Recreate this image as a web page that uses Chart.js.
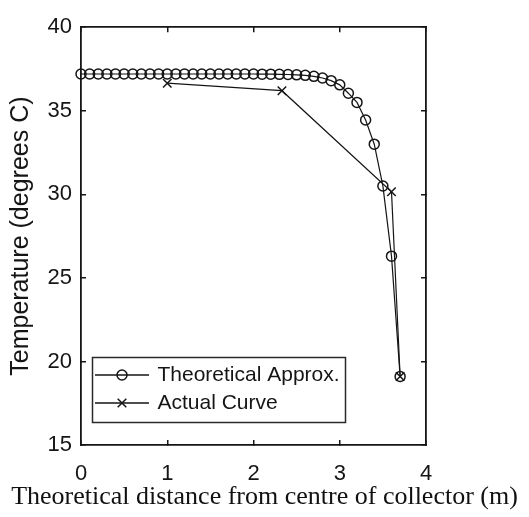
<!DOCTYPE html>
<html><head><meta charset="utf-8">
<script src="https://cdn.jsdelivr.net/npm/chart.js@4.4.0/dist/chart.umd.min.js"></script>
<style>html,body{margin:0;padding:0;background:#fff;}canvas{display:block;}</style>
</head><body>
<canvas id="c" width="529" height="517"></canvas>
<script>
const theoX = [0.0,0.1,0.2,0.3,0.4,0.5,0.6,0.7,0.8,0.9,1.0,1.1,1.2,1.3,1.4,1.5,1.6,1.7,1.8,1.9,2.0,2.1,2.2,2.3,2.4,2.5,2.6,2.7,2.8,2.9,3.0,3.1,3.2,3.3,3.4,3.5,3.6,3.7];
const theoT = [37.2,37.2,37.2,37.2,37.2,37.2,37.2,37.2,37.2,37.2,37.2,37.2,37.2,37.2,37.2,37.2,37.2,37.2,37.2,37.2,37.2,37.19,37.19,37.18,37.17,37.15,37.12,37.06,36.96,36.8,36.55,36.05,35.5,34.45,33.0,30.5,26.3,19.1];
const actX = [1.0, 2.33, 3.6, 3.7];
const actT = [36.65, 36.2, 30.15, 19.1];
const xTicks = [0, 1, 2, 3, 4];
const yTicks = [15, 20, 25, 30, 35, 40];
const seriesLabels = ['Theoretical Approx.', 'Actual Curve'];
const xTitle = 'Theoretical distance from centre of collector (m)';
const yTitle = 'Temperature (degrees C)';

const INK = '#151515';
function sample(kind) {
  const c = document.createElement('canvas');
  c.width = 54; c.height = 16;
  const g = c.getContext('2d');
  g.strokeStyle = INK; g.lineWidth = 1.4;
  g.beginPath(); g.moveTo(0, 8); g.lineTo(54, 8); g.stroke();
  g.lineWidth = 1.5;
  if (kind === 'circle') {
    g.beginPath(); g.arc(27, 8, 5, 0, Math.PI * 2); g.stroke();
  } else {
    const d = 4.3;
    g.beginPath(); g.moveTo(27 - d, 8 - d); g.lineTo(27 + d, 8 + d);
    g.moveTo(27 - d, 8 + d); g.lineTo(27 + d, 8 - d); g.stroke();
  }
  return c;
}
const samples = [sample('circle'), sample('cross')];

const setX = s => { s.ticks = xTicks.map(v => ({value: v})); };
const setY = s => { s.ticks = yTicks.map(v => ({value: v})); };
const gridOpts = {drawOnChartArea: false, tickLength: -5, color: INK, lineWidth: 1.5};
const borderOpts = {color: INK, width: 1.8};
const tickFont = {family: 'Liberation Sans', size: 22};

const legendPlace = {
  id: 'legendPlace',
  afterLayout(chart) {
    const L = chart.legend;
    L.left = 90; L.top = 357.5; L.right = 345; L.bottom = 430;
    L.width = L.right - L.left; L.height = L.bottom - L.top;
  },
  afterDraw(chart) {
    const g = chart.ctx;
    g.save();
    g.strokeStyle = '#2a2a2a'; g.lineWidth = 1.5;
    g.strokeRect(92.5, 357.5, 253, 65);
    g.restore();
  }
};

new Chart(document.getElementById('c'), {
  type: 'scatter',
  data: {
    datasets: [
      {
        label: seriesLabels[0],
        data: theoX.map((x, i) => ({x: x, y: theoT[i]})),
        showLine: true, borderColor: INK, borderWidth: 1.2,
        pointStyle: 'circle', pointRadius: 5, pointBorderWidth: 1.5,
        pointBorderColor: INK, pointBackgroundColor: 'rgba(0,0,0,0)',
        clip: false, tension: 0
      },
      {
        label: seriesLabels[1],
        data: actX.map((x, i) => ({x: x, y: actT[i]})),
        showLine: true, borderColor: INK, borderWidth: 1.2,
        pointStyle: 'crossRot', pointRadius: 6, pointBorderWidth: 1.5,
        pointBorderColor: INK, pointBackgroundColor: 'rgba(0,0,0,0)',
        clip: false, tension: 0
      }
    ]
  },
  options: {
    responsive: false, animation: false, devicePixelRatio: 1, events: [],
    layout: {padding: 0},
    scales: {
      x: {
        type: 'linear', position: 'bottom', min: 0, max: 4,
        afterBuildTicks: setX, afterFit: s => { s.height = 36.4; },
        grid: gridOpts, border: borderOpts,
        ticks: {font: tickFont, color: INK, padding: 21, maxRotation: 0}
      },
      x2: {
        type: 'linear', position: 'top', min: 0, max: 4,
        afterBuildTicks: setX, afterFit: s => { s.height = 11; },
        grid: gridOpts, border: borderOpts, ticks: {display: false}
      },
      y: {
        type: 'linear', position: 'left', min: 15, max: 40,
        afterBuildTicks: setY, afterFit: s => { s.width = 81; },
        grid: gridOpts, border: borderOpts,
        ticks: {font: tickFont, color: INK, padding: 14},
        title: {display: true, text: yTitle, color: INK,
          font: {family: 'Liberation Sans', size: 25}, padding: {top: 6.5, bottom: 0}}
      },
      y2: {
        type: 'linear', position: 'right', min: 15, max: 40,
        afterBuildTicks: setY, afterFit: s => { s.width = 103; },
        grid: gridOpts, border: borderOpts, ticks: {display: false}
      }
    },
    plugins: {
      tooltip: {enabled: false},
      title: {
        display: true, position: 'bottom', text: xTitle, color: '#111',
        font: {family: 'Liberation Serif', size: 26, weight: 'normal'},
        padding: {top: 0, bottom: 4.4}
      },
      legend: {
        position: 'chartArea', align: 'start',
        labels: {
          font: {family: 'Liberation Sans', size: 21}, color: INK,
          usePointStyle: true, pointStyleWidth: 50, padding: 7,
          generateLabels: chart => chart.data.datasets.map((ds, i) => ({
            text: ds.label, pointStyle: samples[i], datasetIndex: i,
            hidden: false, lineWidth: 0, strokeStyle: 'rgba(0,0,0,0)',
            fillStyle: 'rgba(0,0,0,0)', fontColor: INK
          }))
        }
      }
    }
  },
  plugins: [legendPlace]
});
</script>
</body></html>
